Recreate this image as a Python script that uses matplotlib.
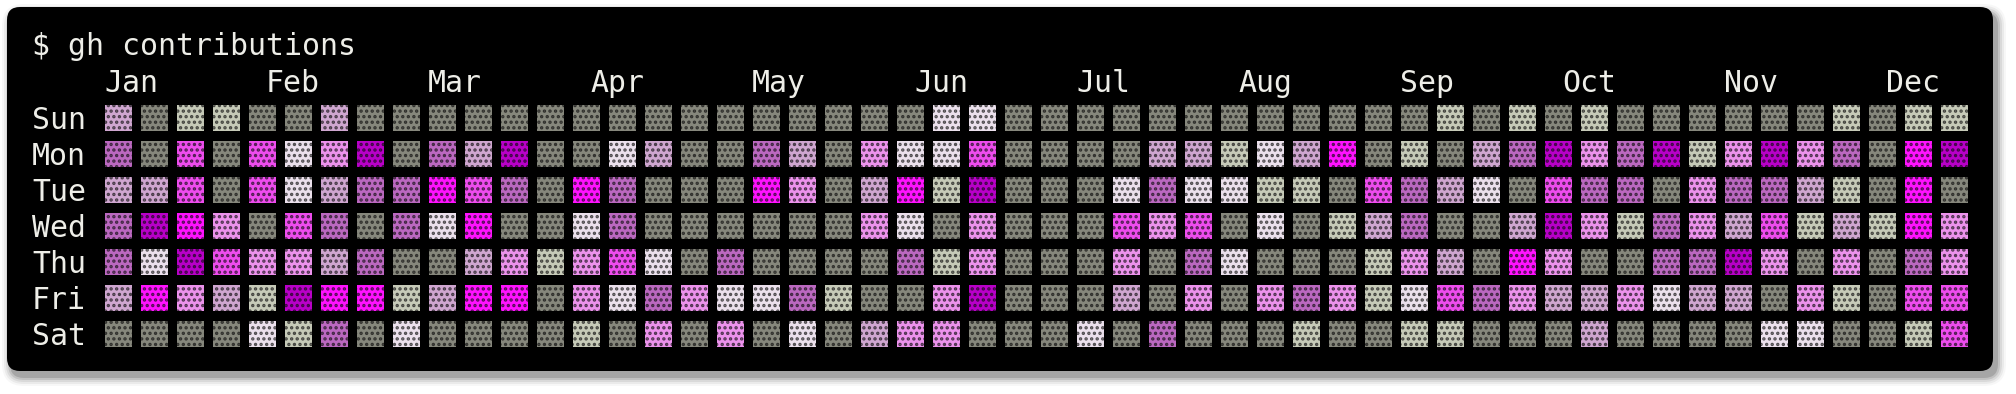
import numpy as np
import matplotlib.pyplot as plt
from matplotlib.patches import FancyBboxPatch, Rectangle
from matplotlib.colors import to_rgb

# Data: one string per weekday, one letter per week (52 weeks)
days = ["Sun", "Mon", "Tue", "Wed", "Thu", "Fri", "Sat"]
months = ["Jan", "Feb", "Mar", "Apr", "May", "Jun",
          "Jul", "Aug", "Sep", "Oct", "Nov", "Dec"]

sun = "pgllggpgggg" + "gggggggggg" + "ggwwgggggg" + "gggggglglg" + "lgggggglgll"
mon = "vgmgmwkdgvp" + "dggwpggvpg" + "kwwmggggpp" + "lwpbglgpvd" + "kvdlkdkvgbd"
tue = "ppmgmwpvvbm" + "vgbvgggbkg" + "pbldgggwvw" + "wllgmvpwgm" + "vvgkvvplgbg"
wed = "vdbkgmvgvwb" + "ggwvgggggg" + "kwgkgggmkm" + "gwglpvggpd" + "klvkpmlplbk"
thu = "vwdmkkpvggp" + "klkmwgvggg" + "gvlkgggkgv" + "wggglkpgbk" + "ggvvdkgkgvk"
fri = "pbkpldbblpb" + "bgkwvkwwvl" + "ggkdgggpgk" + "gkvklwmvkp" + "pkwppgklgmm"
sat = "ggggwlvgwgg" + "gglgkgkgwg" + "pkkgggwgvg" + "gglggllggg" + "pggggwwgglm"
weeks = [sun, mon, tue, wed, thu, fri, sat]

# level letter -> cell colour
palette = {
    "g": "#86877c",  # none
    "l": "#c6cab8",
    "w": "#ebe0ec",
    "p": "#cfa6d0",
    "k": "#ec92ec",
    "v": "#bb68c0",
    "m": "#ee4cee",
    "b": "#ff12ff",
    "d": "#b800c8",
}

plt.rcParams["hatch.linewidth"] = 1.6
mono = "DejaVu Sans Mono"
txt = "#eeeee8"

fig = plt.figure(figsize=(20.16, 3.94), dpi=100)
fig.patch.set_facecolor("white")
ax = fig.add_axes([0, 0, 1, 1])
ax.set_xlim(0, 2016)
ax.set_ylim(394, 0)
ax.axis("off")

# terminal window + soft shadow
x0, y0, w, h, r = 7, 7, 1986, 364, 13
for s, a in [(9, 0.03), (7, 0.05), (5, 0.07), (3, 0.10), (1, 0.14)]:
    ax.add_patch(FancyBboxPatch((x0 + 4 - s, y0 + 6 - s), w + 2 * s, h + 2 * s,
                                boxstyle=f"round,pad=0,rounding_size={r + s}",
                                fc="black", ec="none", alpha=a))
ax.add_patch(FancyBboxPatch((x0, y0), w, h, boxstyle=f"round,pad=0,rounding_size={r}",
                            fc="black", ec="none"))

# character grid: 18 px per char, cells are 2 chars wide
cx0, cw = 32, 18
ax.text(cx0, 55, "$ gh contributions", family=mono, fontsize=21.5, color=txt)
for i, m in enumerate(months):
    ax.text(cx0 + cw * (4 + 9 * i), 92, m, family=mono, fontsize=21.5, color=txt)

gx0, gy0, step = 105, 105, 36
for r_, (day, row) in enumerate(zip(days, weeks)):
    ax.text(cx0, gy0 + step * r_ + 24, day, family=mono, fontsize=21.5, color=txt)
    for c, lvl in enumerate(row):
        fc = palette[lvl]
        dark = np.array(to_rgb(fc)) * 0.3 + 0.03
        ax.add_patch(Rectangle((gx0 + step * c, gy0 + step * r_), 27, 26,
                               fc=fc, ec=dark, lw=0, hatch="..."))

fig.savefig("out.png", dpi=100)
